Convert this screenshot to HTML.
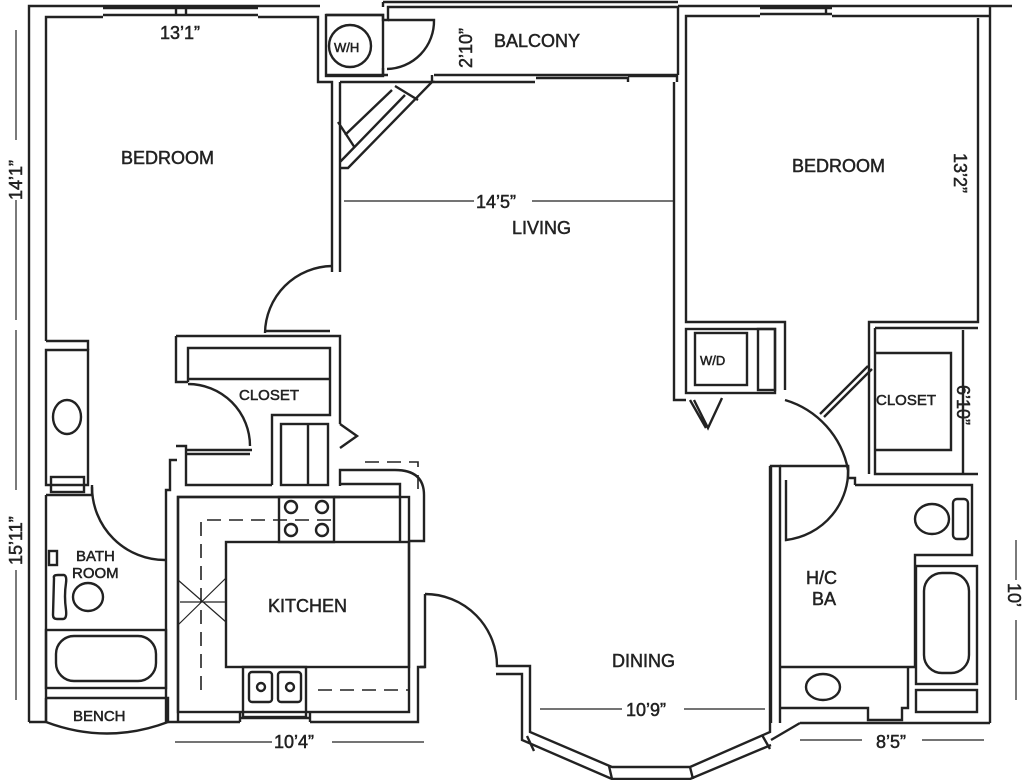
<!DOCTYPE html>
<html><head><meta charset="utf-8"><style>
html,body{margin:0;padding:0;background:#fff}
svg{display:block}
text{font-family:"Liberation Sans",sans-serif;fill:#222;stroke:#222;stroke-width:0.5}
</style></head><body>
<svg width="1024" height="780" viewBox="0 0 1024 780" xmlns="http://www.w3.org/2000/svg">
<g fill="none" stroke="#222" stroke-width="2.4" stroke-linejoin="miter">
<path d="M29,722 V6 H320"/>
<path d="M46,341 V17 H103 M258,17 H318 V82 H332 V272"/>
<path d="M103,8 H258 M103,15 H258 M176,7 V16 M186,7 V16"/>
<path d="M46,350 V485 H88 V350 Z"/>
<path d="M46,341 H88 V350"/>
<ellipse cx="67" cy="417" rx="14" ry="17"/>
<rect x="51" y="477" width="33" height="15"/>
<path d="M46,495 H92 V485"/>
<path d="M46,495 V722"/>
<path d="M92,487 A73,73 0 0 0 165,560"/>
<rect x="49" y="551" width="8" height="14"/>
<path d="M54,578 Q53,575 58,575 H64 Q67,576 66,583 Q64,596 66,610 Q67,619 63,619 H57 Q53,619 53,615 Z"/>
<ellipse cx="88" cy="597" rx="15" ry="14"/>
<rect x="46" y="630" width="120" height="58"/>
<rect x="56" y="636" width="100" height="45" rx="18"/>
<path d="M46,698 H168 V722 M46,698 V722"/>
<path d="M46,722 Q107,745 168,722"/>
<path d="M29,722 H46 M168,722 H240 M310,722 H418 V667 H425"/>
<path d="M166,722 V490 H170 V460 H177 M178,722 V497 H340"/>
<rect x="178" y="497" width="231" height="215"/>
<rect x="226" y="542" width="183" height="125"/>
<rect x="279" y="497" width="55" height="45"/>
<circle cx="291" cy="507" r="6"/><circle cx="322" cy="507" r="6"/>
<circle cx="291" cy="530" r="6"/><circle cx="322" cy="530" r="6"/>
<rect x="243" y="667" width="63" height="50"/>
<rect x="249" y="672" width="23" height="30" rx="3"/><rect x="278" y="672" width="23" height="30" rx="3"/>
<circle cx="261" cy="687" r="4"/><circle cx="290" cy="687" r="4"/>
<path d="M240,722 V712 M310,722 V712 M240,718 H310"/>
<path d="M334,497 H400 V541 M400,497 V484 H340"/>
<path d="M408,541 H424 V495 Q424,470 395,470 H340 V486"/>
<path d="M188,382 V348 H330 V415 H272 V485 M188,379 H330"/>
<path d="M176,336 V382 H188 M176,336 H340 V424"/>
<path d="M176,446 H186 V485 H272 M186,454 H250"/>
<path d="M188,384 A62,62 0 0 1 250,446 M186,450 H252"/>
<path d="M265,333 A68,68 0 0 1 332,266 M265,331 H330"/>
<rect x="281" y="424" width="47" height="61"/><path d="M308,424 V485"/>
<path d="M340,424 L357,436 L340,448"/>
<path d="M326,15 H383 V20 H388 V7 H678 V75"/>
<rect x="326" y="15" width="57" height="61"/>
<path d="M383,2 H678 M383,2 V7 M326,75 H383 M383,68 V75 H388"/>
<circle cx="350" cy="46" r="21"/>
<path d="M388,20 H434 A48,48 0 0 1 387,69"/>
<path d="M432,75 V82 H535 M536,78 H628 V82 M434,75 H677 M628,76 H677 V82 M686,82 V16 H760 M832,16 H990 M760,8 H832 M760,14 H832 M826,7 V14 M678,6 H1012 M990,6 V723"/>
<path d="M978,18 V322 H869 V474 M686,82 V322 H785 V390"/>
<path d="M340,82 L432,82 L348,168 L340,168 M340,82 V168 M340,162 L405,95 M345,135 L392,90 M338,122 L355,148 M395,86 L418,100"/>
<path d="M340,168 V272"/>
<path d="M674,82 V400 H686"/>
<rect x="686" y="329" width="89" height="64"/>
<rect x="695" y="333" width="52" height="52"/>
<rect x="758" y="329" width="17" height="61"/>
<path d="M694,400 L708,428 L722,398 M690,400 L706,428"/>
<path d="M785,400 A90,90 0 0 1 848,470 M820,414 L868,366 M824,417 L872,369"/>
<path d="M875,328 H978 M875,328 V474 H978 M876,353 H951 V450 H876"/>
<path d="M963,330 V474"/>
<path d="M848,465 A70,70 0 0 1 786,540 V480"/>
<path d="M780,466 H848 V478 H855 V485"/>
<path d="M771,723 V466 H780 V723"/>
<path d="M855,485 H972 V555 H915 V667 H908 V708 H902 V720 H868 V708 H780 M780,667 H908"/>
<ellipse cx="823" cy="687" rx="17" ry="13"/>
<ellipse cx="932" cy="519" rx="17" ry="15"/>
<rect x="953" y="499" width="15" height="40" rx="4"/>
<rect x="916" y="566" width="61" height="118"/>
<rect x="924" y="573" width="45" height="100" rx="18"/>
<rect x="916" y="690" width="61" height="22"/>
<path d="M800,723 H990 M771,740 L800,723"/>
<path d="M420,667 H425 V594 M425,594 A72,72 0 0 1 497,667 M496,666 H530 V732 L612,767 H690 L770,732 V466 M496,674 H522 V740 L612,779 H690 L771,745"/>
<path d="M527,736 L534,751 M609,766 L612,779 M690,767 L693,779 M762,735 L770,749"/>
</g>
<g fill="none" stroke="#222" stroke-width="1.6" stroke-dasharray="14,8">
<path d="M365,462 H418 V490 M201,690 V520 H333 M318,690 H409"/>
</g>
<g fill="none" stroke="#222" stroke-width="1.2">
<path d="M178,580 L226,622 M178,625 L226,578 M180,602 H226"/>
<path d="M344,201 H474 M532,201 H674 M175,742 H272 M332,742 H424 M540,709 H622 M684,709 H765 M800,740 H862 M922,740 H984 M16,30 V140 M16,200 V320 M16,330 V490 M16,570 V700 M1016,540 V580 M1016,620 V700"/>
</g>
<g font-size="18">
<text x="121" y="164">BEDROOM</text>
<text x="792" y="172">BEDROOM</text>
<text x="512" y="234">LIVING</text>
<text x="494" y="47">BALCONY</text>
<text x="268" y="612">KITCHEN</text>
<text x="612" y="667">DINING</text>
<text x="806" y="584">H/C</text>
<text x="812" y="605">BA</text>
</g>
<g font-size="15">
<text x="239" y="400">CLOSET</text>
<text x="876" y="405">CLOSET</text>
<text x="76" y="561">BATH</text>
<text x="72" y="578">ROOM</text>
<text x="73" y="721">BENCH</text>
<text x="334" y="52" font-size="13">W/H</text>
<text x="700" y="365" font-size="13">W/D</text>
</g>
<g font-size="18" style="stroke-width:0.2">
<text x="160" y="39">13’1”</text>
<text x="476" y="208">14’5”</text>
<text x="626" y="716">10’9”</text>
<text x="274" y="748">10’4”</text>
<text x="876" y="748">8’5”</text>
<text transform="translate(22,200) rotate(-90)">14’1”</text>
<text transform="translate(22,565) rotate(-90)">15’11”</text>
<text transform="translate(472,68) rotate(-90)">2’10”</text>
<text transform="translate(954,153) rotate(90)">13’2”</text>
<text transform="translate(957,385) rotate(90)">6’10”</text>
<text transform="translate(1008,583) rotate(90)">10’</text>
</g>
</svg>
</body></html>
